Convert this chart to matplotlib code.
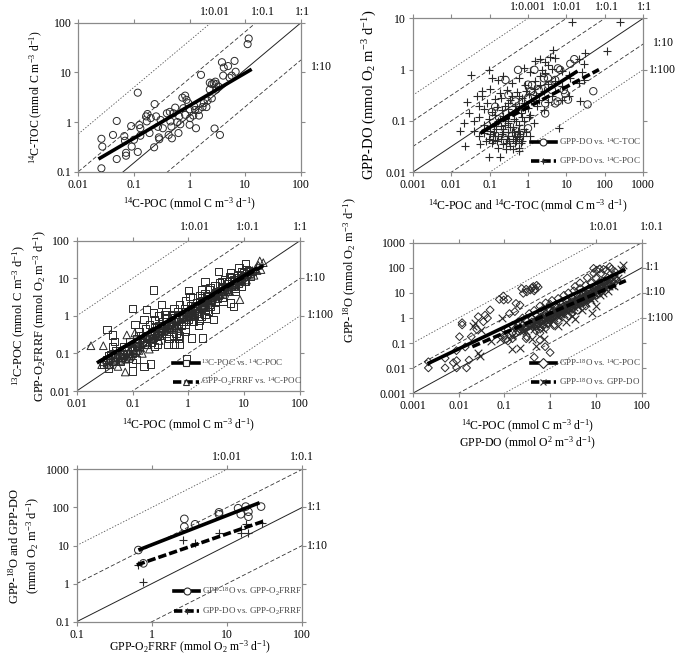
import numpy as np
import matplotlib
matplotlib.use("Agg")
import matplotlib.pyplot as plt
from matplotlib.lines import Line2D
from matplotlib.ticker import FixedLocator, FixedFormatter, NullLocator

plt.rcParams['font.family'] = ['Liberation Serif', 'DejaVu Serif']
plt.rcParams['mathtext.fontset'] = 'custom'
plt.rcParams['mathtext.rm'] = 'Liberation Serif'
plt.rcParams['mathtext.it'] = 'Liberation Serif:italic'
plt.rcParams['mathtext.bf'] = 'Liberation Serif:bold'
plt.rcParams['lines.scale_dashes'] = False

# ---------------- DATA ----------------
# Panel 1: 14C-TOC vs 14C-POC
p1_pts = [(0.026,0.117),(0.026,0.46),(0.027,0.32),(0.042,0.55),(0.049,1.05),(0.049,0.18),(0.067,0.52),
          (0.069,0.42),(0.072,0.24),(0.072,0.21),(0.089,0.83),(0.091,0.32),(0.10,0.44),(0.117,0.25),
          (0.117,3.9),(0.125,0.87),(0.13,0.75),(0.165,1.3),(0.175,1.45),(0.20,1.2),(0.235,2.3),(0.23,0.31),
          (0.27,0.8),(0.28,0.49),(0.285,0.45),(0.30,1.1),(0.33,0.75),(0.42,0.55),(0.44,1.6),(0.55,1.95),
          (0.47,0.81),(0.60,1.0),(0.65,1.3),(0.68,0.9),(0.74,3.1),(0.83,3.4),(0.88,2.8),(0.95,2.4),(1.0,1.8),
          (1.02,1.2),(1.16,1.35),(1.2,2.1),(1.45,1.75),(1.47,1.35),(1.6,8.9),(1.7,2.0),(1.8,2.4),(2.5,3.0),
          (2.3,6.2),(2.5,5.8),(2.7,6.0),(2.9,6.5),(3.0,5.8),(2.8,0.74),(3.5,0.55),(3.3,5.2),(3.8,16),
          (4.1,12.5),(4.9,13.4),(6.4,17),(6.7,10.3),(5.7,8.6),(5.2,7.8),(4.0,8.6),(11.5,48),(11.0,37),
          (0.51,1.5),(0.39,1.5),(0.45,1.03),(0.17,1.03),(0.13,0.53),(0.19,0.6),(0.25,1.3),(0.77,1.9),
          (1.25,1.75),(2.0,2.0),(2.1,2.7),(3.0,4.5),(0.48,0.47),(0.63,0.6),(1.0,0.88),(1.3,0.75),(0.83,1.4),(2.3,4.5)]
p1_fit = dict(slope=0.657, intercept=0.331, xmin=0.023, xmax=13.0)

# Panel 2: GPP-DO vs 14C-TOC (circles) and vs 14C-POC (pluses)
p2_toc = [(0.55,0.99),(1.47,0.99),(2.6,0.68),(3.3,0.68),(6.0,1.06),(6.9,0.99),(12.6,1.3),(16,1.6),(50,0.38),
          (35.5,0.21),(1.0,0.51),(1.27,0.5),(1.0,0.28),(2.8,0.14),(2.8,0.22),(5.1,0.22),(5.9,0.24),(8.5,0.4),
          (9.3,0.34),(1.0,0.072),(0.47,0.24),(0.31,0.32),(1.2,0.38),(1.9,0.4),(3.4,0.5),(4.2,0.4),(0.26,0.63),
          (0.115,0.15),(0.14,0.19),(11,0.26),(5.1,0.63)]
p2_poc = [(14,8.4),(250,8.4),(115,2.3),(31,2.1),(4.6,2.4),(2.1,1.6),(3.8,1.8),(0.032,0.79),(0.095,1.0),
          (0.021,0.09),(0.017,0.063),(0.023,0.033),(0.095,0.02),(0.19,0.02),(0.039,0.063),(0.026,0.23),
          (0.029,0.14),(0.052,0.2),(0.063,0.3),(6.3,0.072),(0.105,0.08),(0.23,0.07),
          (2.8,1.4),(5.1,1.7),(21,1.6),(28,1.3),(3.4,1.25),(1.55,1.5),
          (0.77,1.1),(1.15,0.9),(2.3,1.0),(2.8,0.85),(4.2,1.05),(7.6,0.95),(11.4,0.8),(26,0.9),
          (0.115,0.7),(0.17,0.62),(0.23,0.75),(0.38,0.55),(0.57,0.68),(0.85,0.5),(1.55,0.6),(2.1,0.75),
          (3.4,0.52),(5.1,0.6),(7.6,0.48),(12.7,0.7),(21,0.55),(28,0.62),
          (0.047,0.3),(0.063,0.38),(0.105,0.42),(0.14,0.27),(0.19,0.35),(0.28,0.4),(0.38,0.3),(0.51,0.36),
          (0.7,0.28),(1.04,0.33),(1.4,0.42),(1.9,0.26),(2.6,0.38),(4.2,0.3),(7.6,0.26),(11.4,0.3),(23,0.25),
          (0.07,0.17),(0.086,0.22),(0.115,0.15),(0.155,0.19),(0.21,0.16),(0.31,0.22),(0.43,0.14),(0.57,0.2),
          (0.85,0.17),(1.15,0.13),(1.7,0.2),(2.6,0.16),(3.4,0.23),
          (0.039,0.1),(0.052,0.12),(0.07,0.085),(0.095,0.11),(0.128,0.08),(0.17,0.1),(0.23,0.125),
          (0.31,0.09),(0.43,0.11),(0.57,0.085),(0.77,0.1),(1.04,0.12),(1.4,0.09),
          (0.052,0.05),(0.07,0.058),(0.095,0.045),(0.128,0.062),(0.17,0.05),(0.21,0.055),(0.28,0.045),
          (0.38,0.06),(0.51,0.048),(0.63,0.055),
          (0.057,0.035),(0.115,0.038),(0.17,0.03),(0.23,0.036),(0.35,0.032),(0.47,0.038),(0.57,0.03),(0.7,0.04),
          (0.14,0.13),(0.19,0.11),(0.25,0.2),(0.3,0.17),(0.35,0.26),(0.45,0.2),(0.6,0.3),(0.8,0.22),(1.2,0.25),
          (1.6,0.32),(0.2,0.28),(0.33,0.13),(0.5,0.16),(0.9,0.38),(0.15,0.07),(0.25,0.085),(0.4,0.075),
          (0.65,0.14),(1.0,0.18),(2.0,0.5),(0.3,0.06),(0.45,0.05),(0.8,0.07),(0.12,0.05),
          (0.08,0.04),(0.1,0.055),(0.12,0.042),(0.14,0.05),(0.16,0.04),(0.2,0.045),(0.22,0.06),(0.26,0.038),
          (0.3,0.05),(0.33,0.04),(0.4,0.045),(0.42,0.06),(0.5,0.04),(0.55,0.065),(0.6,0.045),(0.65,0.038),
          (0.75,0.05),(0.9,0.06),(1.1,0.05),(0.27,0.028),(0.4,0.028),(0.6,0.026),(0.2,0.08),(0.3,0.1),
          (0.35,0.075),(0.5,0.1),(0.7,0.12),(0.15,0.09),(0.1,0.065),(0.6,0.065)]
p2_fit_toc = dict(slope=0.48, intercept=-0.647, xmin=0.057, xmax=19.5)
p2_fit_poc = dict(slope=0.397, intercept=-0.732, xmin=0.063, xmax=70.0)

# Panel 3: 13C-POC (squares) and GPP-O2FRRF (triangles) vs 14C-POC
p3_13c = [(0.24,4.9),(0.1,1.55),(0.18,1.5),(0.11,0.58),(0.035,0.43),(0.044,0.31),(0.047,0.21),(0.044,0.15),
          (0.037,0.087),(0.037,0.041),(0.069,0.1),(0.085,0.075),(0.10,0.056),(0.115,0.07),(0.16,0.045),
          (0.21,0.052),(0.1,0.034),(0.93,0.072),(1.8,0.26),(1.55,0.74),(0.43,0.18),(0.55,0.18),(0.66,0.26),
          (0.28,0.18),(0.7,0.18),(1.0,4.7),(1.07,3.3),(1.73,3.0),(2.45,5.5),(3.45,15),(5.7,13.8),(10.6,24),
          (8.1,19.5),(5.7,2.2),(6.4,1.8),(10.4,8.3),(4.9,8.3),(3.0,3.7),(2.3,1.3),(1.7,1.0),(1.23,0.71),
          (0.5,0.71),(0.38,1.07),(0.33,2.0),(0.24,1.2),(0.16,0.79),(0.13,0.39),(0.54,0.31),(0.87,0.39),
          (1.15,0.26),(0.74,0.56),(0.33,0.31),(0.25,0.49),(4.2,2.4),(6.9,5.5),(2.45,1.8),(1.3,1.8),
          (0.58,0.88),(2.1,0.88),(2.8,0.8),(3.0,1.45),(3.95,4.5),(2.0,8.3),(1.7,4.9),(7.9,10.1),(9.6,13.8),
          (6.0,10.1),(3.95,8.3),
          (0.03,0.05),(0.035,0.07),(0.04,0.09),(0.05,0.06),(0.05,0.12),(0.06,0.08),(0.07,0.15),(0.08,0.1),
          (0.09,0.2),(0.1,0.13),(0.12,0.25),(0.12,0.16),(0.14,0.3),(0.15,0.2),(0.17,0.45),(0.18,0.25),
          (0.2,0.6),(0.2,0.3),(0.22,0.2),(0.25,0.4),(0.25,0.8),(0.28,0.3),(0.3,0.55),(0.3,1.0),(0.35,0.7),
          (0.35,0.4),(0.4,0.9),(0.4,1.3),(0.45,0.6),(0.5,1.1),(0.5,0.45),(0.55,1.6),(0.6,0.8),(0.65,1.3),
          (0.7,2.0),(0.75,0.6),(0.8,1.0),(0.85,1.6),(0.9,2.5),(1.0,1.2),(1.0,0.8),(1.1,1.9),(1.2,3.0),
          (1.3,1.4),(1.4,2.2),(1.5,1.0),(1.6,3.5),(1.7,1.8),(1.8,2.6),(2.0,4.0),(2.0,1.5),(2.2,2.8),
          (2.4,5.0),(2.5,2.0),(2.7,3.5),(3.0,6.5),(3.0,2.5),(3.3,4.5),(3.6,7.5),(4.0,3.2),(4.0,5.5),
          (4.5,9.0),(5.0,4.5),(5.0,7.0),(5.5,11),(6.0,6.0),(6.5,9.0),(7.0,4.5),(7.5,12),(8.0,7.5),(9.0,10),
          (9.0,15),(10,8.5),(11,13),(12,16),(13,11),(0.6,0.35),(0.9,0.45),(1.2,0.7),(0.45,0.25),(0.25,0.15),
          (2.0,1.1),(1.5,0.55),(0.7,0.3),
          (0.05,0.08),(0.06,0.06),(0.08,0.12),(0.1,0.1),(0.13,0.15),(0.15,0.3),(0.18,0.18),(0.22,0.35),
          (0.3,0.3),(0.35,0.55),(0.4,0.35),(0.5,0.7),(0.6,0.55),(0.7,1.1),(0.8,0.7),(0.9,1.3),(1.1,1.0),
          (1.2,1.6),(1.4,1.2),(1.6,2.4),(1.9,1.9),(2.2,3.5),(2.6,2.6),(3.0,4.0),(3.5,3.5),(4.2,6.0),
          (4.8,5.0),(6.0,8.0),(7.0,7.0),(8.5,12),(10,11),(11,17),(14,15),(9,6),
          (0.045,0.06),(0.065,0.09),(0.11,0.12),(0.16,0.17),(0.23,0.25),(0.32,0.38),(0.45,0.5),(0.65,0.7),
          (0.95,0.95),(1.3,1.25),(1.8,1.7),(2.5,2.7),(3.3,3.0),(4.5,5.0),(6.5,6.0),(8,9)]
p3_frrf = [(0.018,0.16),(0.03,0.16),(0.074,0.032),(0.09,0.08),(0.079,0.31),(0.11,0.35),(19,29),(20,17),
           (8.4,2.7),(5.2,6.1),(0.03,0.06),(0.04,0.05),(0.05,0.07),(0.06,0.1),(0.07,0.12),(0.08,0.09),
           (0.1,0.14),(0.12,0.2),(0.14,0.18),(0.16,0.25),(0.2,0.28),(0.25,0.3),(0.3,0.35),(0.35,0.5),
           (0.4,0.45),(0.5,0.6),(0.6,0.75),(0.7,0.8),(0.8,1.0),(1.0,1.1),(1.2,1.4),(1.5,1.6),(1.8,2.0),
           (2.2,2.5),(2.6,2.8),(3.0,3.5),(3.5,4.0),(4.0,4.5),(5.0,5.5),(6.0,6.5),(7.0,7.5),(8.0,9.0),
           (10,11),(12,13),(14,16),(16,18),(18,22),(22,26),(0.045,0.1),(0.055,0.045),(0.13,0.12),
           (0.3,0.22),(0.6,0.5),(1.3,1.0),(2.5,2.0),(5.5,4.5),(11,9),(15,12),(0.2,0.13),(0.15,0.1),
           (0.07,0.09),(0.075,0.07),
           (0.028,0.05),(0.04,0.07),(0.06,0.065),(0.09,0.12),(0.11,0.11),(0.18,0.2),(0.22,0.25),(0.28,0.28),
           (0.45,0.55),(0.55,0.5),(0.9,0.9),(1.1,1.3),(1.6,1.5),(2.0,2.2),(2.8,3.2),(4.5,4.0),(6.5,7.0),
           (9,8.5),(13,15),(17,16),
           (0.035,0.055),(0.045,0.065),(0.055,0.08),(0.065,0.075),(0.085,0.11),(0.095,0.09),(0.12,0.15),
           (0.14,0.14),(0.17,0.2),(0.19,0.17),(0.24,0.26),(0.27,0.33),(0.32,0.3),(0.38,0.42),(0.42,0.5),
           (0.48,0.45),(0.52,0.65),(0.65,0.6),(0.75,0.85),(0.85,0.8),(0.95,1.1),(1.05,1.0),(1.15,1.2),
           (1.35,1.5),(1.45,1.3),(1.7,1.9),(1.9,1.7),(2.1,2.4),(2.4,2.3),(2.7,3.0),(3.2,3.3),(3.7,3.8),
           (4.3,4.8),(4.8,4.5),(5.8,6.0),(6.8,6.5),(7.5,8.5),(8.5,8.0),(9.5,10.5),(11,12),(13,13)]
p3_fit_13c = dict(slope=0.88, intercept=0.189, xmin=0.023, xmax=17.0)
p3_fit_frrf = dict(slope=0.87, intercept=0.17, xmin=0.025, xmax=22.0)

# Panel 4: GPP-18O vs 14C-POC (diamonds) and vs GPP-DO (crosses)
p4_poc = [(0.0022,0.0103),(0.0022,0.018),(0.0051,0.025),(0.0051,0.0103),(0.0091,0.0103),(0.015,0.0103),
          (0.0077,0.0166),(0.0091,0.02),(0.017,0.021),(0.0105,0.18),(0.012,0.65),(0.012,0.53),(0.019,0.18),
          (0.025,0.35),(0.027,1.13),(0.035,0.71),(0.038,1.3),(0.049,2.1),(0.043,0.99),(0.078,5.5),
          (0.095,7.5),(0.097,5.2),(0.12,5.5),(0.18,3.8),(0.17,1.8),(0.22,3.3),(0.13,1.5),(0.26,9.6),
          (0.31,11),(0.37,13),(0.43,18),(0.51,20),(0.24,15),(0.47,14),(0.3,14),(0.4,16),(0.45,12),(0.55,17),
          (0.45,0.027),(1.0,0.042),(0.11,0.14),(0.31,0.18),(0.6,0.13),(0.78,0.072),(0.009,0.05),(0.014,0.07),
          (8.9,95),(10.4,80),(14.6,87),(20,110),(26,70),
          (0.1,0.2),(0.12,0.35),(0.15,0.25),(0.15,0.5),(0.18,0.4),(0.2,0.3),(0.2,0.7),(0.25,0.5),(0.25,1.0),
          (0.3,0.4),(0.3,0.8),(0.35,0.6),(0.35,1.5),(0.4,1.0),(0.4,0.5),(0.45,2.0),(0.5,0.8),(0.5,1.3),
          (0.55,0.6),(0.6,1.8),(0.6,3.0),(0.7,1.0),(0.7,2.2),(0.75,0.7),(0.8,1.5),(0.8,4.0),(0.9,2.5),
          (1.0,1.2),(1.0,3.5),(1.0,0.8),(1.1,5.0),(1.2,2.0),(1.3,3.0),(1.4,1.4),(1.5,6.0),(1.6,2.5),
          (1.7,4.0),(1.8,1.8),(2.0,8.0),(2.0,3.0),(2.2,5.0),(2.4,2.2),(2.5,10),(2.7,4.0),(3.0,6.5),
          (3.0,3.0),(3.3,12),(3.5,5.0),(4.0,8.0),(4.0,3.5),(4.5,15),(5.0,6.0),(5.0,10),(5.5,4.5),(6.0,20),
          (6.0,8.0),(7.0,12),(7.0,5.5),(8.0,25),(8.0,10),(9.0,15),(10,8.0),(10,40),(11,20),(12,12),(13,60),
          (14,30),(15,18),(17,80),(18,40),(20,25),(22,90),(25,50),(28,35),(0.3,0.15),(0.5,0.3),(0.8,0.4),
          (1.5,0.8),(2.5,1.2),(4.0,2.0),(6.0,3.0),(0.15,0.15),(0.12,0.12),(3.0,1.5),(1.2,0.5),(0.6,0.25),
          (9.0,60),(12,90),(6.5,40),(4.5,25),(3.5,18),
          (0.5,0.5),(0.6,0.7),(0.7,0.5),(0.8,0.9),(0.9,1.1),(1.1,1.0),(1.2,1.3),(1.3,1.7),(1.5,1.5),
          (1.6,2.0),(1.8,2.3),(2.0,2.0),(2.2,2.6),(2.4,3.2),(2.6,2.6),(2.8,3.5),(3.0,4.5),(3.2,3.8),
          (3.5,3.0),(3.8,4.8),(4.2,5.5),(4.5,4.0),(5.0,7.5),(5.5,6.0),(6.0,10),(6.5,7.0),(7.0,15),(7.5,9.0),
          (8.5,12),(9.5,18),(11,14),(12,25),(14,18),(16,30),(18,22),(0.4,0.7),(0.3,0.5),(0.25,0.35),
          (0.2,0.5),(0.18,0.25),(1.0,2.0),(1.4,2.5),(2.5,5.0),(4.0,6.0),(6.0,5.0),(8.0,8.0),(10,20),
          (0.9,0.6),(1.7,1.2),(3.0,2.2),
          (0.6,1.0),(0.8,1.2),(1.0,1.0),(1.1,1.6),(1.3,1.2),(1.5,2.0),(1.7,1.7),(1.9,2.8),(2.1,2.3),
          (2.3,3.0),(2.6,3.0),(2.9,2.7),(3.1,3.6),(3.4,4.2),(3.7,3.5),(4.0,4.5),(4.4,5.2),(4.8,5.0),
          (5.3,6.5),(5.8,7.0),(6.3,6.0),(7.0,8.0),(7.8,9.5),(8.5,9.0),(9.5,11),(10.5,13),(12,16),(13,12),
          (15,25),(17,20),(20,35),(23,28),(0.45,0.7),(0.55,0.9),(0.7,0.8),(0.35,0.5),(0.28,0.4),(0.22,0.35)]
p4_do = [(0.05,0.12),(0.08,0.15),(0.1,0.25),(0.15,0.2),(0.2,0.4),(0.25,0.3),(0.3,0.6),(0.4,0.5),(0.5,0.9),
         (0.6,0.6),(0.7,1.2),(0.8,0.8),(1.0,1.5),(1.0,0.6),(1.2,2.0),(1.5,1.2),(1.8,3.0),(2.0,1.5),(2.5,2.5),
         (3.0,4.0),(3.0,1.2),(4.0,3.0),(5.0,6.0),(5.0,2.0),(6.0,4.0),(7.0,9.0),(8.0,5.0),(10,12),(10,3.0),
         (12,8.0),(15,20),(18,12),(20,30),(25,18),(30,40),(35,90),(40,130),(0.4,0.15),(0.15,0.06),
         (0.7,0.35),(1.5,0.5),(2.2,0.7),(3.5,0.9),(0.021,0.48),(0.023,0.61),(0.031,0.33),(0.03,0.03),
         (0.027,0.042),(0.088,0.97),(0.22,0.062),(8.1,1.6),(0.48,0.076),(0.72,0.14),
         (0.3,0.3),(0.5,0.5),(0.6,0.9),(0.9,0.7),(1.2,1.0),(1.4,1.8),(1.7,1.5),(2.2,2.0),(2.6,3.5),
         (3.3,2.8),(4.5,4.5),(5.5,4.0),(6.5,7.0),(8,10),(9,6),(12,15),(14,10),(17,25),(22,20),(25,35),
         (0.35,0.45),(0.8,1.1),(1.1,0.8),(2.8,2.0),(4,5.5),
         (0.6,0.5),(0.9,1.0),(1.3,1.4),(1.6,1.1),(1.9,2.2),(2.4,1.8),(3.0,3.0),(3.8,3.5),(4.8,5.5),
         (6,6),(7.5,6.5),(9.5,9.0),(11,11),(13,14),(16,15),(19,19),(0.45,0.35),(0.7,0.7)]
p4_fit_poc = dict(slope=0.87, intercept=0.506, xmin=0.0021, xmax=44.0)
p4_fit_do = dict(slope=0.785, intercept=0.191, xmin=0.02, xmax=45.0)

# Panel 5: GPP-18O (circles) and GPP-DO (pluses) vs GPP-O2FRRF
p5_18o = [(0.66,7.6),(0.77,3.4),(2.7,50),(2.7,31),(3.75,36),(7.8,74),(7.8,66),(14,95),(15.2,66),
          (17.7,105),(19.2,77),(19.2,57),(28.3,105)]
p5_do = [(0.66,3.1),(0.77,1.1),(2.6,14),(3.75,11.5),(7.7,21),(15.2,27),(15.2,21),(18,36),(19.2,21),(28.8,40)]
p5_fit_18o = dict(slope=0.77, intercept=1.02, xmin=0.66, xmax=27.0)
p5_fit_do = dict(slope=0.68, intercept=0.627, xmin=0.63, xmax=30.0)

# ---------------- STYLE HELPERS ----------------
FIG_W, FIG_H = 680, 662
fig = plt.figure(figsize=(6.8, 6.62), dpi=100)

def axes_px(l, t, r, b):
    return fig.add_axes([l / FIG_W, 1 - b / FIG_H, (r - l) / FIG_W, (b - t) / FIG_H])

def fmt(v):
    return '%g' % v

SPINE = '#8a8a8a'
PT = '#2a2a2a'

def setup(ax, xt, yt):
    ax.set_xscale('log'); ax.set_yscale('log')
    ax.set_xlim(xt[0], xt[-1]); ax.set_ylim(yt[0], yt[-1])
    ax.xaxis.set_major_locator(FixedLocator(xt))
    ax.xaxis.set_major_formatter(FixedFormatter([fmt(v) for v in xt]))
    ax.yaxis.set_major_locator(FixedLocator(yt))
    ax.yaxis.set_major_formatter(FixedFormatter([fmt(v) for v in yt]))
    ax.xaxis.set_minor_locator(NullLocator()); ax.yaxis.set_minor_locator(NullLocator())
    for s in ax.spines.values():
        s.set_color(SPINE); s.set_linewidth(0.9)
    ax.tick_params(which='both', direction='out', length=3, width=0.8, color=SPINE,
                   top=True, right=True, labelsize=8.5, pad=2)
    ax.set_autoscale_on(False)

def ref_lines(ax, slope, intercepts, styles):
    x0, x1 = ax.get_xlim()
    xs = np.logspace(np.log10(x0), np.log10(x1), 50)
    for c, st in zip(intercepts, styles):
        ys = 10 ** (c + slope * np.log10(xs))
        if st == 'solid':
            ax.plot(xs, ys, color='#222222', lw=0.7, zorder=1)
        elif st == 'dashed':
            ax.plot(xs, ys, color='#333333', lw=0.6, dashes=(3, 1.6), zorder=1)
        else:
            ax.plot(xs, ys, color='#555555', lw=0.6, dashes=(1, 1.2), zorder=1)

FIT_DASH = (6, 2.2)

def fit_line(ax, f, dashed=False):
    xs = np.logspace(np.log10(f['xmin']), np.log10(f['xmax']), 20)
    ys = 10 ** (f['intercept'] + f['slope'] * np.log10(xs))
    if dashed:
        ax.plot(xs, ys, color='k', lw=2.6, dashes=FIT_DASH, zorder=5, solid_capstyle='butt')
    else:
        ax.plot(xs, ys, color='k', lw=2.6, zorder=5, solid_capstyle='butt')

def scat(ax, pts, marker, s, lw=0.7):
    a = np.array(pts).T
    if marker in ('+', 'x'):
        ax.scatter(a[0], a[1], marker=marker, s=s, c=PT, linewidths=lw, zorder=3)
    else:
        ax.scatter(a[0], a[1], marker=marker, s=s, facecolors='none', edgecolors=PT,
                   linewidths=lw, zorder=3)

def legend(ax, entries, anchor, fs=6.5):
    handles = []
    labels = []
    for lab, mk, dashed in entries:
        h = Line2D([], [], color='k', lw=2.6, marker=mk, mfc='white' if mk not in ('+', 'x') else PT,
                   mec=PT, ms=5, mew=0.8)
        if dashed:
            h.set_dashes(FIT_DASH)
        handles.append(h); labels.append(lab)
    leg = ax.legend(handles, labels, loc='lower right', bbox_to_anchor=anchor, frameon=False,
                    fontsize=fs, handlelength=2.8, handletextpad=0.3, labelspacing=0.9,
                    numpoints=1, borderaxespad=0.0, borderpad=0.0)
    for t in leg.get_texts():
        t.set_color('#444444')

def ftext(x, y, s, ha='center', fs=8.5):
    fig.text(x / FIG_W, 1 - y / FIG_H, s, ha=ha, va='center', fontsize=fs)

LBL = 8.5
unit_C = r'(mmol C m$^{-3}$ d$^{-1}$)'
unit_O = r'(mmol O$_2$ m$^{-3}$ d$^{-1}$)'

# ---------------- PANEL 1 ----------------
ax1 = axes_px(78.3, 22.7, 301.0, 171.7)
setup(ax1, [0.01, 0.1, 1, 10, 100], [0.1, 1, 10, 100])
ref_lines(ax1, 0.94, [1.64, 0.88, 0.12, -0.63], ['dotted', 'dashed', 'solid', 'dashed'])
scat(ax1, p1_pts, 'o', 26)
fit_line(ax1, p1_fit)
ax1.set_xlabel(r'$^{14}$C-POC ' + unit_C, fontsize=LBL, labelpad=4)
ax1.set_ylabel(r'$^{14}$C-TOC ' + unit_C, fontsize=LBL, labelpad=6)
ftext(215, 12, '1:0.01'); ftext(263, 12, '1:0.1'); ftext(302, 12, '1:1')
ftext(311, 67, '1:10', ha='left')

# ---------------- PANEL 2 ----------------
ax2 = axes_px(412.7, 18.3, 643.3, 172.3)
setup(ax2, [0.001, 0.01, 0.1, 1, 10, 100, 1000], [0.01, 0.1, 1, 10])
ref_lines(ax2, 0.5, [1.0, 0.5, 0.0, -0.5, -1.0, -1.5],
          ['dotted', 'dashed', 'dashed', 'solid', 'dashed', 'dotted'])
scat(ax2, p2_poc, '+', 34, lw=0.8)
scat(ax2, p2_toc, 'o', 28)
fit_line(ax2, p2_fit_toc)
fit_line(ax2, p2_fit_poc, dashed=True)
legend(ax2, [(r'GPP-DO vs. $^{14}$C-TOC', 'o', False), (r'GPP-DO vs. $^{14}$C-POC', '+', True)],
       (0.99, 0.04))
ax2.set_xlabel(r'$^{14}$C-POC and $^{14}$C-TOC ' + unit_C, fontsize=LBL, labelpad=5)
ax2.set_ylabel(r'GPP-DO ' + unit_O, fontsize=10.5, labelpad=4)
ftext(528, 7, '1:0.001'); ftext(567, 7, '1:0.01'); ftext(607, 7, '1:0.1'); ftext(644, 7, '1:1')
ftext(653, 43, '1:10', ha='left'); ftext(649, 70, '1:100', ha='left')

# ---------------- PANEL 3 ----------------
ax3 = axes_px(76.7, 240.7, 300.0, 391.0)
setup(ax3, [0.01, 0.1, 1, 10, 100], [0.01, 0.1, 1, 10, 100])
ref_lines(ax3, 1.0, [2, 1, 0, -1, -2], ['dotted', 'dashed', 'solid', 'dashed', 'dotted'])
scat(ax3, p3_13c, 's', 28)
scat(ax3, p3_frrf, '^', 30)
fit_line(ax3, p3_fit_13c)
fit_line(ax3, p3_fit_frrf, dashed=True)
legend(ax3, [(r'$^{13}$C-POC vs. $^{14}$C-POC', 's', False),
             (r'GPP-O$_2$FRRF vs. $^{14}$C-POC', '^', True)], (1.01, 0.02))
ax3.set_xlabel(r'$^{14}$C-POC ' + unit_C, fontsize=LBL, labelpad=5)
ax3.set_ylabel(r'$^{13}$C-POC ' + unit_C + '\n' + r'GPP-O$_2$FRRF ' + unit_O, fontsize=LBL + 0.5,
               labelpad=0, linespacing=1.35)
ftext(195, 227, '1:0.01'); ftext(248, 227, '1:0.1'); ftext(300, 227, '1:1')
ftext(305, 278, '1:10', ha='left'); ftext(307, 315, '1:100', ha='left')

# ---------------- PANEL 4 ----------------
ax4 = axes_px(412.7, 242.7, 641.7, 393.3)
setup(ax4, [0.001, 0.01, 0.1, 1, 10, 100], [0.001, 0.01, 0.1, 1, 10, 100, 1000])
ref_lines(ax4, 1.0, [2, 1, 0, -1, -2], ['dotted', 'dashed', 'solid', 'dashed', 'dotted'])
scat(ax4, p4_poc, 'D', 16)
scat(ax4, p4_do, 'x', 30, lw=0.8)
fit_line(ax4, p4_fit_poc)
fit_line(ax4, p4_fit_do, dashed=True)
legend(ax4, [(r'GPP-$^{18}$O vs. $^{14}$C-POC', 'D', False),
             (r'GPP-$^{18}$O vs. GPP-DO', 'x', True)], (0.995, 0.04))
ax4.set_xlabel(r'$^{14}$C-POC ' + unit_C + '\n' + r'GPP-DO (mmol O$^{2}$ m$^{-3}$ d$^{-1}$)',
               fontsize=LBL, labelpad=4, linespacing=1.0)
ax4.set_ylabel(r'GPP-$^{18}$O ' + unit_O, fontsize=LBL + 0.5)
ax4.yaxis.set_label_coords(-0.235, 0.82)
ftext(604, 227, '1:0.01'); ftext(652, 227, '1:0.1')
ftext(645, 267, '1:1', ha='left'); ftext(645, 292, '1:10', ha='left'); ftext(647, 318, '1:100', ha='left')

# ---------------- PANEL 5 ----------------
ax5 = axes_px(76.7, 469.3, 302.3, 621.7)
setup(ax5, [0.1, 1, 10, 100], [0.1, 1, 10, 100, 1000])
ref_lines(ax5, 1.0, [2, 1, 0, -1], ['dotted', 'dashed', 'solid', 'dashed'])
scat(ax5, p5_18o, 'o', 30)
scat(ax5, p5_do, '+', 36, lw=0.8)
fit_line(ax5, p5_fit_18o)
fit_line(ax5, p5_fit_do, dashed=True)
legend(ax5, [(r'GPP-$^{18}$O vs. GPP-O$_2$FRRF', 'o', False),
             (r'GPP-DO vs. GPP-O$_2$FRRF', '+', True)], (1.0, 0.03))
ax5.set_xlabel(r'GPP-O$_2$FRRF ' + unit_O, fontsize=LBL, labelpad=-1)
ax5.set_ylabel(r'GPP-$^{18}$O and GPP-DO' + '\n' + unit_O, fontsize=LBL + 0.5, labelpad=3,
               linespacing=1.3)
ftext(227, 457, '1:0.01'); ftext(302, 457, '1:0.1')
ftext(307, 507, '1:1', ha='left'); ftext(307, 546, '1:10', ha='left')

fig.savefig('out.png', dpi=100)
